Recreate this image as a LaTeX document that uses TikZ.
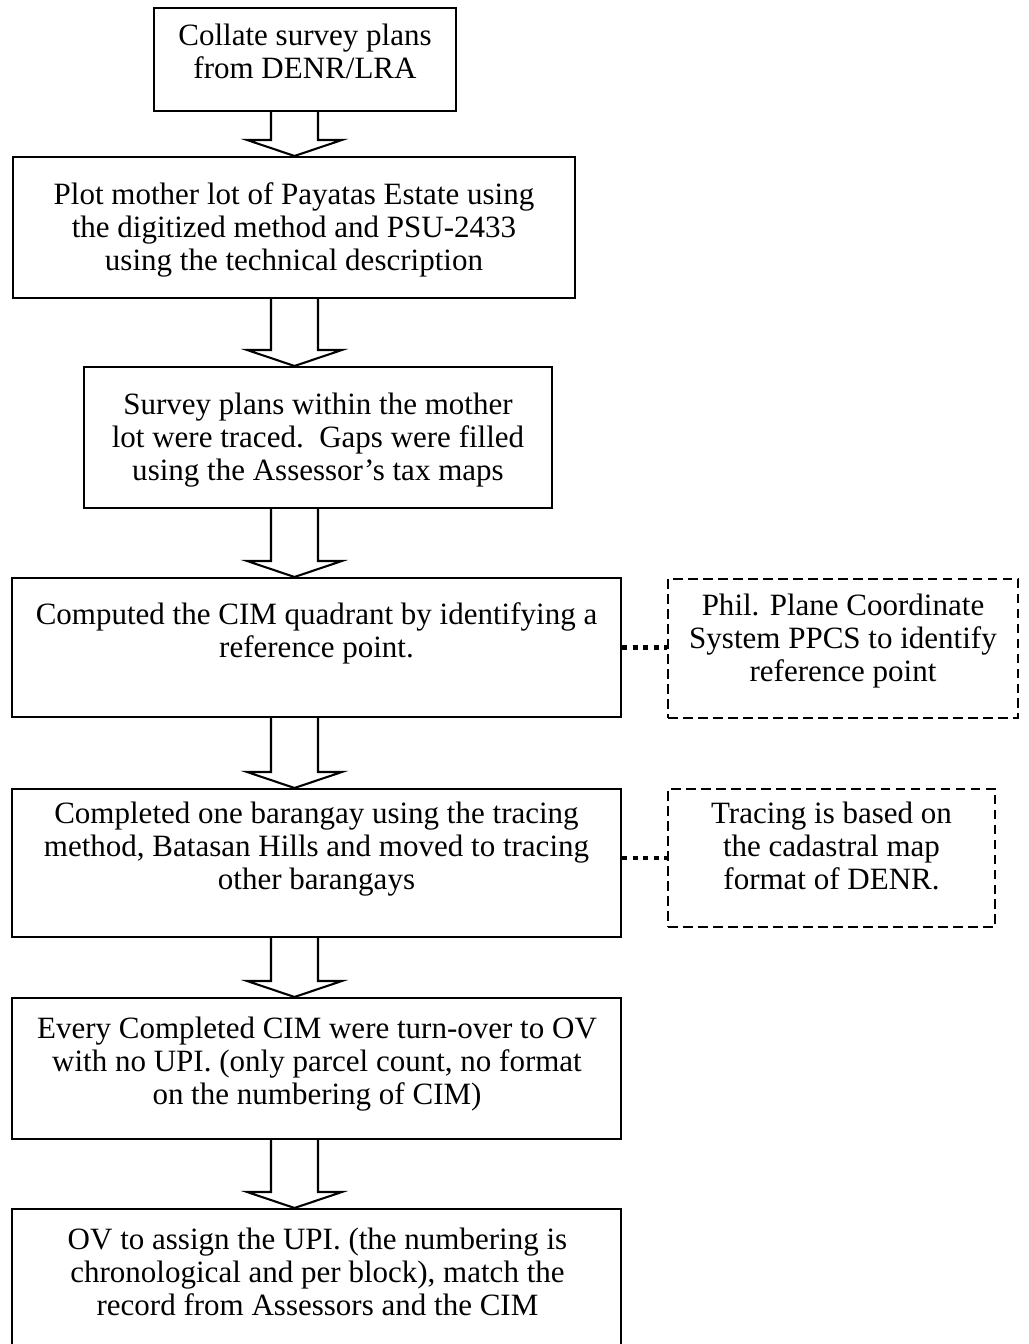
\documentclass[tikz,border=0pt]{standalone}
\usepackage{fontspec}
\setmainfont{Liberation Serif}
\usetikzlibrary{fit,calc}
\def\pxu{0.387pt}
\begin{document}
\begin{tikzpicture}[x=0.387pt,y=-0.387pt,
  box/.style={draw, line width=0.8pt, inner sep=0pt},
  notebox/.style={draw, line width=0.8pt, inner sep=0pt, dash pattern=on 3.8pt off 2pt},
  txt/.style={align=center, inner sep=0pt, font=\fontsize{12}{12.8}\selectfont},
  dotlink/.style={line width=1.9pt, dash pattern=on 1.9pt off 2.2pt},
  barrow/.style={draw, line width=0.8pt, line join=miter}]
\useasboundingbox (0,0) rectangle (1029,1344);
\newcommand\blockarrow[2]{%
  \draw[barrow] let \p1=(#1.south), \p2=(#2.north) in
    (271*\pxu,\y1) -- (271*\pxu,\y2+16*\pxu) -- (247*\pxu,\y2+16*\pxu) --
    (294.5*\pxu,\y2) -- (342*\pxu,\y2+16*\pxu) -- (318*\pxu,\y2+16*\pxu) --
    (318*\pxu,\y1);}
% boxes
\node[box, fit={(154,8) (456,111)}] (b1) {};
\node[box, fit={(13,157) (575,298)}] (b2) {};
\node[box, fit={(84,367) (552,508)}] (b3) {};
\node[box, fit={(12,578) (621,717)}] (b4) {};
\node[box, fit={(12,789) (621,937)}] (b5) {};
\node[box, fit={(12,998) (621,1139)}] (b6) {};
\node[box, fit={(12,1209) (621,1370)}] (b7) {};
\node[notebox, fit={(668,579) (1018,718)}] (nA) {};
\node[notebox, fit={(668,789) (995,927)}] (nB) {};
% texts
\node[txt] (t1) at (305,55) {\strut Collate survey plans\\from DENR/LRA\strut};
\node[txt] (t2) at (294,231) {\strut Plot mother lot of Payatas Estate using\\the digitized method and PSU-2433\\using the technical description\strut};
\node[txt] (t3) at (318,441) {\strut Survey plans within the mother\\lot were traced.\ \ Gaps were filled\\using the Assessor’s tax maps\strut};
\node[txt] (t4) at (316.5,634) {\strut Computed the CIM quadrant by identifying a\\reference point.\strut};
\node[txt] (t5) at (316.5,850) {\strut Completed one barangay using the tracing\\method, Batasan Hills and moved to tracing\\other barangays\strut};
\node[txt] (t6) at (317,1065) {\strut Every Completed CIM were turn-over to OV\\with no UPI. (only parcel count, no format\\on the numbering of CIM)\strut};
\node[txt] (t7) at (317.5,1276) {\strut OV to assign the UPI. (the numbering is\\chronological and per block), match the\\record from Assessors and the CIM\strut};
\node[txt] (tA) at (843,642) {\strut Phil. Plane Coordinate\\System PPCS to identify\\reference point\strut};
\node[txt] (tB) at (831.5,850) {\strut Tracing is based on\\the cadastral map\\format of DENR.\strut};
% arrows
\blockarrow{b1}{b2}
\blockarrow{b2}{b3}
\blockarrow{b3}{b4}
\blockarrow{b4}{b5}
\blockarrow{b5}{b6}
\blockarrow{b6}{b7}
% dotted links
\draw[dotlink] (b4.east) -- (b4.east -| nA.west);
\draw[dotlink] (b5.east |- nB.center) -- (nB.west);
\end{tikzpicture}
\end{document}
